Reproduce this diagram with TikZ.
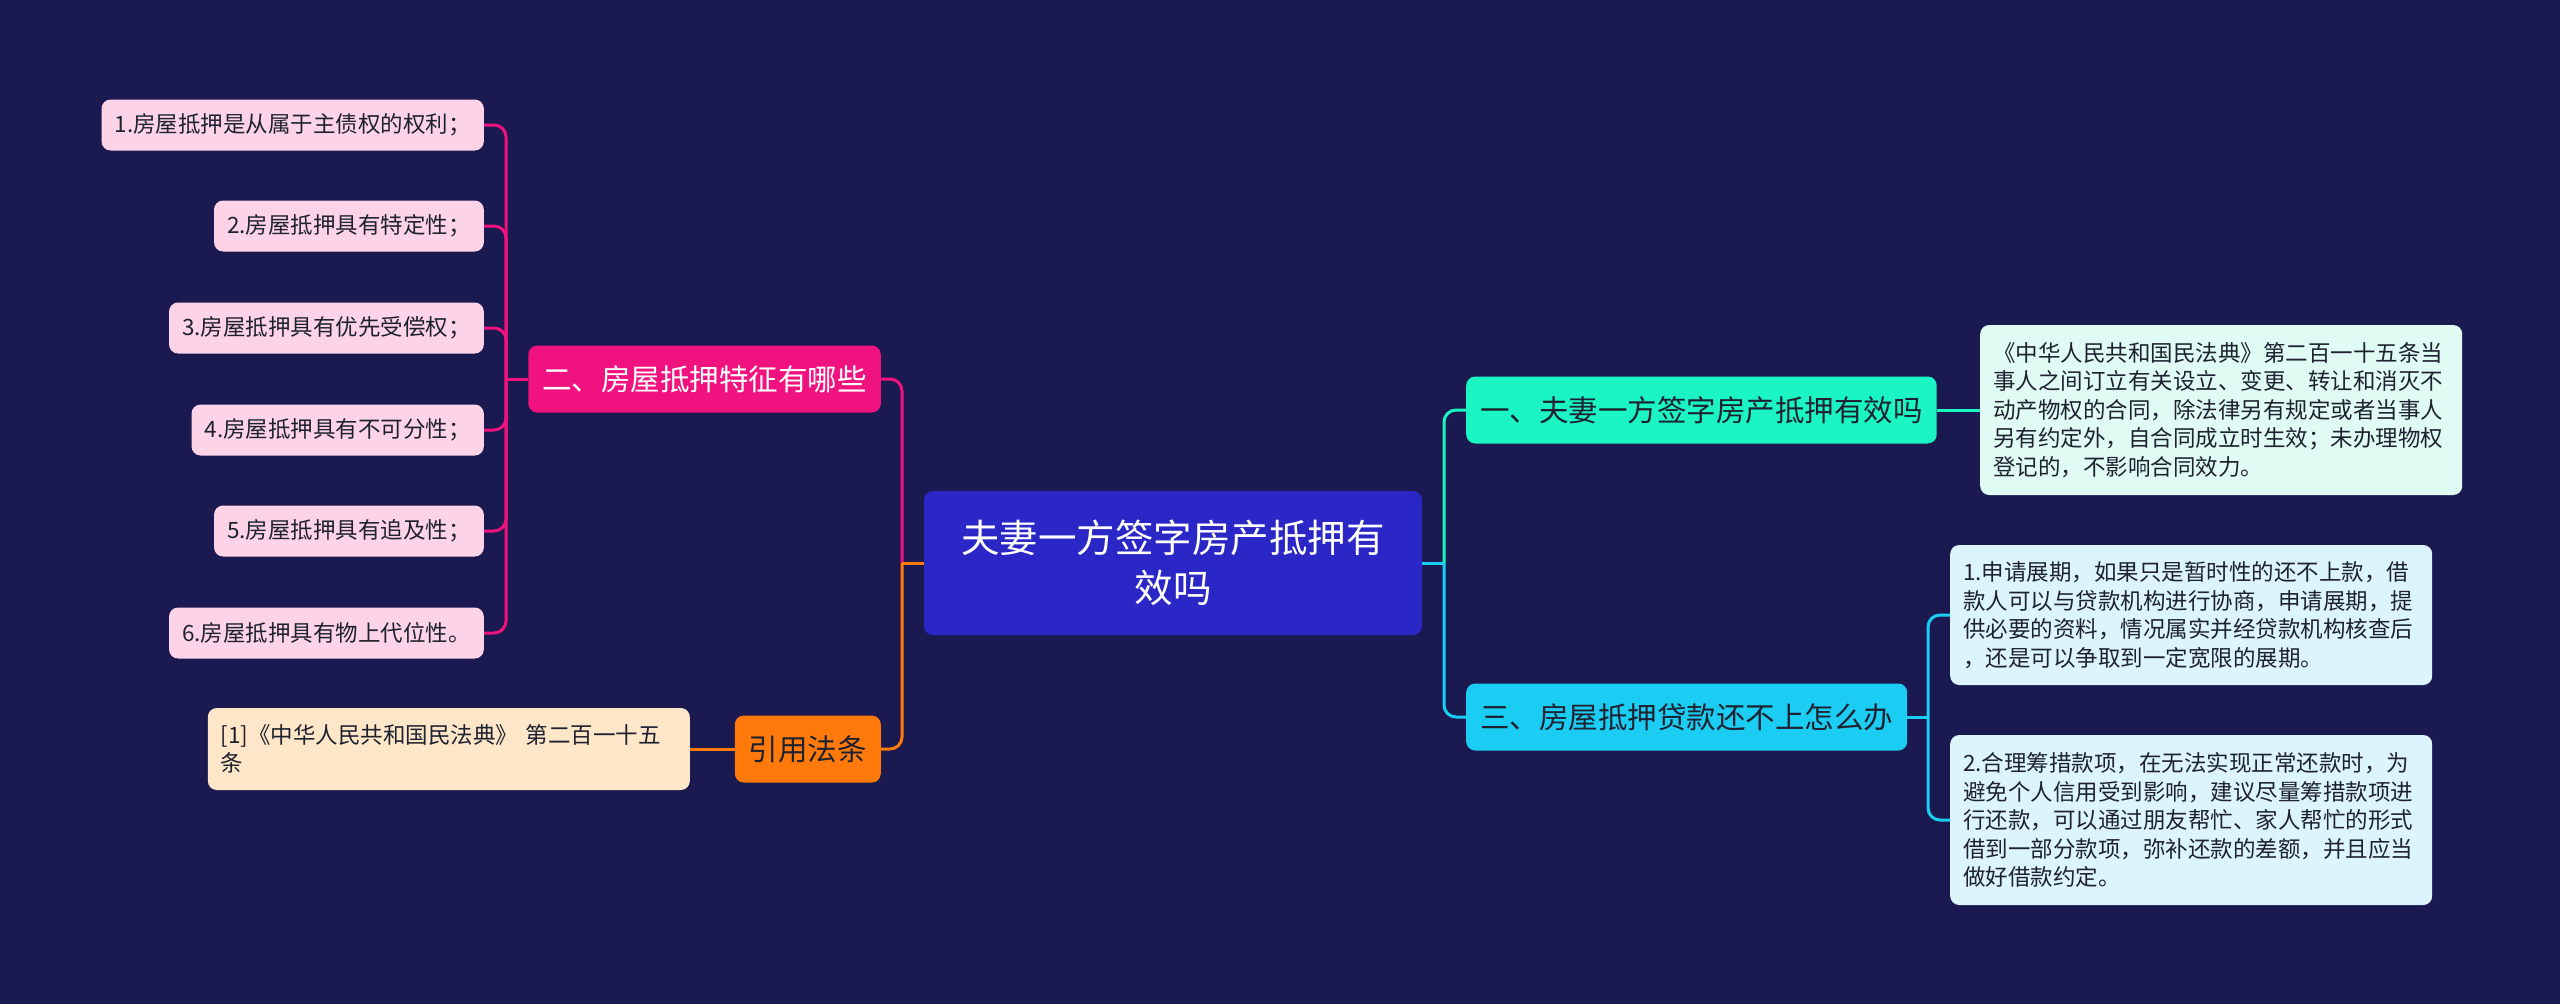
\documentclass[tikz,border=0pt]{standalone}
\usepackage{fontspec}
\setmainfont{Noto Sans CJK SC}
\definecolor{bg}{HTML}{1A1950}
\definecolor{rootc}{HTML}{2A27C6}
\definecolor{aqua}{HTML}{1BF5C3}
\definecolor{cyanc}{HTML}{1CCDF3}
\definecolor{pinkc}{HTML}{F0127E}
\definecolor{orangec}{HTML}{FF7A0A}
\definecolor{pinkleaf}{HTML}{FDD3E8}
\definecolor{peachleaf}{HTML}{FEE6C8}
\definecolor{mintleaf}{HTML}{E0FBF3}
\definecolor{cyanleaf}{HTML}{DCF4FC}
\definecolor{darktext}{HTML}{1E2230}
\tikzset{
  box/.style={rounded corners=9pt, inner xsep=13pt, inner ysep=0pt},
  rootbox/.style={box, fill=rootc, text=white, minimum width=498pt, minimum height=144pt,
    align=center, font=\fontsize{38.5pt}{50pt}\selectfont},
  branchbox/.style={box, inner xsep=14pt, minimum height=67pt, font=\fontsize{29.5pt}{36pt}\selectfont},
  leafbox/.style={box, text=darktext, font=\fontsize{22.5pt}{28.5pt}\selectfont},
  pinkbox/.style={leafbox, fill=pinkleaf, minimum height=51pt},
  wideleaf/.style={leafbox, align=left, text width=456pt},
  conn/.style={line width=3pt},
  rc/.style={rounded corners=12pt}
}
\begin{document}
\begin{tikzpicture}[x=1pt,y=-1pt]
\useasboundingbox (0,0) rectangle (2560,1004);
\fill[bg] (0,0) rectangle (2560,1004);

% root
\node[rootbox] (root) at (1173,563) {夫妻一方签字房产抵押有\\效吗};

% branches
\node[branchbox, fill=aqua, text=darktext, anchor=west] (b1) at (1466,410) {一、夫妻一方签字房产抵押有效吗};
\node[branchbox, fill=cyanc, text=darktext, anchor=west] (b3) at (1466,717) {三、房屋抵押贷款还不上怎么办};
\node[branchbox, fill=pinkc, text=white, anchor=east] (b2) at (881,379) {二、房屋抵押特征有哪些};
\node[branchbox, fill=orangec, text=darktext, anchor=east] (b4) at (881,749) {引用法条};

% right leaves
\node[wideleaf, fill=mintleaf, anchor=west, minimum height=170pt] (r1) at (1980,410)
{《中华人民共和国民法典》第二百一十五条当\\事人之间订立有关设立、变更、转让和消灭不\\动产物权的合同，除法律另有规定或者当事人\\另有约定外，自合同成立时生效；未办理物权\\登记的，不影响合同效力。};
\node[wideleaf, fill=cyanleaf, anchor=west, minimum height=140pt] (r3a) at (1950,615)
{1.申请展期，如果只是暂时性的还不上款，借\\款人可以与贷款机构进行协商，申请展期，提\\供必要的资料，情况属实并经贷款机构核查后\\，还是可以争取到一定宽限的展期。};
\node[wideleaf, fill=cyanleaf, anchor=west, minimum height=170pt] (r3b) at (1950,820)
{2.合理筹措款项，在无法实现正常还款时，为\\避免个人信用受到影响，建议尽量筹措款项进\\行还款，可以通过朋友帮忙、家人帮忙的形式\\借到一部分款项，弥补还款的差额，并且应当\\做好借款约定。};

% pink leaves
\node[pinkbox, anchor=east] (p1) at (484,125) {1.房屋抵押是从属于主债权的权利；};
\node[pinkbox, anchor=east] (p2) at (484,226) {2.房屋抵押具有特定性；};
\node[pinkbox, anchor=east] (p3) at (484,328) {3.房屋抵押具有优先受偿权；};
\node[pinkbox, anchor=east] (p4) at (484,430) {4.房屋抵押具有不可分性；};
\node[pinkbox, anchor=east] (p5) at (484,531) {5.房屋抵押具有追及性；};
\node[pinkbox, anchor=east] (p6) at (484,633) {6.房屋抵押具有物上代位性。};

% citation leaf
\node[wideleaf, fill=peachleaf, anchor=east, minimum height=82pt] (cite) at (690,749)
{[1]《中华人民共和国民法典》 第二百一十五\\条};

% junctions
\coordinate (jL) at (902,563);
\coordinate (jR) at (1444,563);
\coordinate (jP) at (506,379);
\coordinate (jR3) at (1928,717);

% connectors left
\draw[conn, pinkc, rc] (jL) |- (b2.east);
\draw[conn, orangec, rc] (jL) |- (b4.east);
\draw[conn, orangec] (root.west) -- (jL);
\draw[conn, orangec] (b4.west) -- (cite.east);
\draw[conn, pinkc] (b2.west) -- (jP);
\foreach \p in {p1,p2,p3,p4,p5,p6}{
  \draw[conn, pinkc, rc] (jP) |- (\p.east);
}

% connectors right
\draw[conn, aqua, rc] (jR) |- (b1.west);
\draw[conn, cyanc, rc] (jR) |- (b3.west);
\draw[conn, cyanc] (root.east) -- (jR);
\draw[conn, aqua] (b1.east) -- (r1.west);
\draw[conn, cyanc] (b3.east) -- (jR3);
\draw[conn, cyanc, rc] (jR3) |- (r3a.west);
\draw[conn, cyanc, rc] (jR3) |- (r3b.west);
\end{tikzpicture}
\end{document}
